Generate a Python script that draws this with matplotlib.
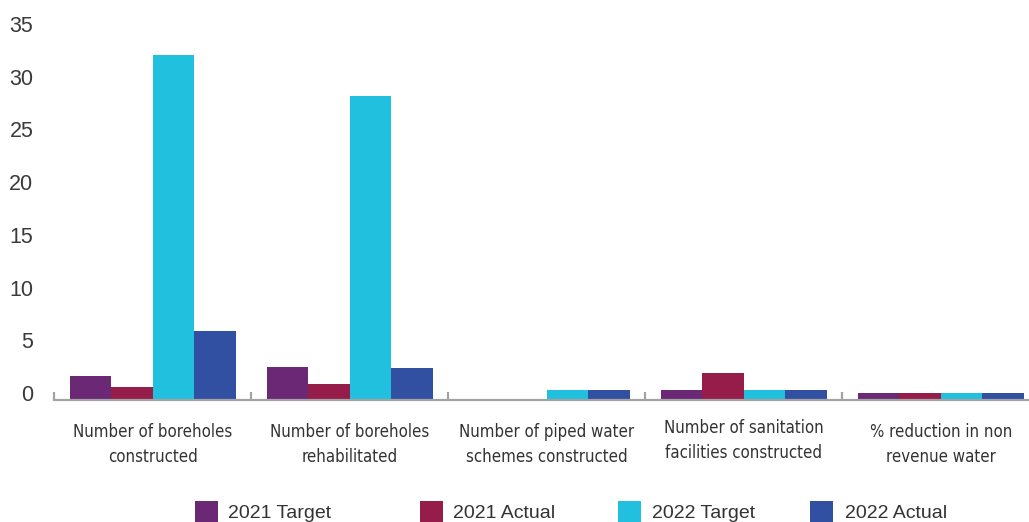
import matplotlib
matplotlib.use("Agg")
import matplotlib.pyplot as plt
import matplotlib.transforms as mtransforms
from matplotlib import font_manager
from matplotlib.patches import Rectangle
import numpy as np

categories = [
    "Number of boreholes\nconstructed",
    "Number of boreholes\nrehabilitated",
    "Number of piped water\nschemes constructed",
    "Number of sanitation\nfacilities constructed",
    "% reduction in non\nrevenue water",
]
series_names = ["2021 Target", "2021 Actual", "2022 Target", "2022 Actual"]
target_2021 = [2.2, 3.1, 0.0, 0.9, 0.6]
actual_2021 = [1.2, 1.5, 0.0, 2.5, 0.6]
target_2022 = [32.7, 28.8, 0.9, 0.9, 0.6]
actual_2022 = [6.5, 3.0, 0.9, 0.9, 0.6]
yticks = [0, 5, 10, 15, 20, 25, 30, 35]

colors = ["#6B2874", "#961C4A", "#22C0DF", "#3250A2"]
series = [target_2021, actual_2021, target_2022, actual_2022]

# look for a condensed sans font for the category labels
cond_font = None
cond_size = 12.1
for f in font_manager.fontManager.ttflist:
    nm = f.name.lower()
    st = str(f.stretch).lower()
    if f.style == "normal" and f.weight in (400, "normal", "regular") and (
            "narrow" in nm or "condensed" in nm or "condensed" in st or st in ("semi-condensed",)):
        if "mono" in nm or "serif" in nm and "sans" not in nm:
            continue
        cond_font = font_manager.FontProperties(fname=f.fname)
        break
if cond_font is None:
    cond_font = font_manager.FontProperties(family=["Liberation Sans", "DejaVu Sans"])
    cond_size = 10.5

W, H = 1029, 522
fig = plt.figure(figsize=(W / 100, H / 100), dpi=100)

left_px, right_px = 54.3, 1039.3
zero_px = 399.5
px_per_unit = 10.543
ymax = 36
top_px = zero_px - px_per_unit * ymax
ax = fig.add_axes([left_px / W, (H - zero_px) / H,
                   (right_px - left_px) / W, (zero_px - top_px) / H])

x = np.arange(len(categories))
bw = 0.2107
for i, (vals, c) in enumerate(zip(series, colors)):
    ax.bar(x + (i - 1.5) * bw, vals, width=bw, color=c, linewidth=0)

ax.set_xlim(-0.5, len(categories) - 0.5)
ax.set_ylim(0, ymax)

for s in ["left", "right", "top"]:
    ax.spines[s].set_visible(False)
ax.spines["bottom"].set_color("#A3A3A3")
ax.spines["bottom"].set_linewidth(1.6)

ax.set_xticks([])
ax.set_xticks(np.arange(len(categories) + 1) - 0.5, minor=True)
ax.tick_params(axis="x", which="minor", direction="in", length=5.8,
               width=1.6, color="#A3A3A3")

ax.set_yticks(yticks)
ax.set_yticklabels([str(t) for t in yticks])
ax.tick_params(axis="y", length=0, pad=15, labelsize=15.5, labelcolor="#3A3A3A")
for lab in ax.get_yticklabels():
    lab.set_fontfamily(["Liberation Sans", "DejaVu Sans"])
    lab.set_transform(lab.get_transform() +
                      mtransforms.ScaledTranslation(0, 6.5 / 100, fig.dpi_scale_trans))

label_offsets = [0, 0, 0, 4, 0]
for i, (cat, off) in enumerate(zip(categories, label_offsets)):
    t = ax.text(i, 0, cat,
                transform=mtransforms.blended_transform_factory(ax.transData, ax.transAxes)
                + mtransforms.ScaledTranslation(0, -(23.5 - off) / 100, fig.dpi_scale_trans),
                ha="center", va="top", color="#333333", linespacing=1.5,
                fontproperties=cond_font)
    t.set_fontsize(cond_size)

sq_x = [195, 420, 618, 810]
txt_x = [228, 453, 652, 845]
for name, c, sx, tx in zip(series_names, colors, sq_x, txt_x):
    fig.patches.append(Rectangle((sx / W, 0), 23 / W, (H - 501) / H,
                                 transform=fig.transFigure, color=c, linewidth=0))
    fig.text(tx / W, (H - 514) / H, name, ha="left", va="center",
             fontsize=14, color="#333333", family=["Liberation Sans", "DejaVu Sans"])

fig.savefig("out.png", dpi=100)
